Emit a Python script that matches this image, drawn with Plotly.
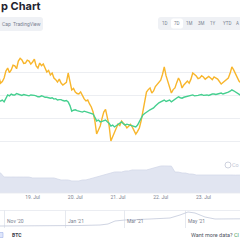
import plotly.graph_objects as go
import pandas as pd

# ---- data ----
times_h = pd.date_range("2021-07-18 04:00", periods=140, freq="1h")
times_2h = pd.date_range("2021-07-18 04:00", periods=70, freq="2h")

btc_price = [31660, 31820, 31530, 31600, 31750, 32050, 32180, 31980, 32095, 32300,
             32270, 32150, 32480, 32600, 32525, 32380, 32395, 32520, 32480, 32350,
             32440, 32560, 32270, 32180, 32395, 32280, 32355, 32200, 32010, 32080,
             31880, 31960, 31750, 31680, 31575, 31700, 31530, 31450, 31490, 31560,
             31965, 31600, 31235, 31300, 31145, 31080, 31060, 31150, 30975, 30850,
             30760, 30800, 30630, 30500, 30285, 29900, 29335, 29500, 29680, 30000,
             30285, 30400, 30110, 29700, 29035, 29200, 29380, 29550, 29765, 29700,
             29895, 29800, 29725, 29600, 29680, 29750, 29640, 29500, 29335, 29450,
             29595, 29900, 30285, 30800, 31145, 31250, 31320, 31100, 31190, 31380,
             31490, 31600, 31660, 31900, 32225, 31850, 31575, 31300, 31105, 31250,
             31320, 31550, 31750, 31600, 31320, 31450, 31530, 31620, 31530, 31700,
             31965, 31900, 31835, 31720, 31750, 31850, 31795, 31700, 31750, 31820,
             31750, 31680, 31795, 31760, 31705, 31600, 31490, 31560, 31620, 31700,
             31750, 31950, 32225, 32100, 31920, 31750, 31620, 31550, 31490, 31420]

coin_price = [0.540, 0.537, 0.538, 0.540, 0.536, 0.545, 0.551, 0.549, 0.553, 0.551,
              0.551, 0.554, 0.553, 0.551, 0.550, 0.552, 0.551, 0.549, 0.549, 0.551,
              0.551, 0.550, 0.549, 0.547, 0.547, 0.549, 0.548, 0.546, 0.546, 0.545,
              0.544, 0.545, 0.542, 0.543, 0.540, 0.541, 0.541, 0.539, 0.538, 0.539,
              0.536, 0.528, 0.516, 0.518, 0.519, 0.517, 0.516, 0.515, 0.514, 0.516,
              0.515, 0.513, 0.513, 0.512, 0.510, 0.503, 0.495, 0.497, 0.493, 0.494,
              0.495, 0.497, 0.493, 0.490, 0.484, 0.486, 0.482, 0.485, 0.488, 0.490,
              0.493, 0.489, 0.486, 0.488, 0.487, 0.485, 0.485, 0.484, 0.482, 0.486,
              0.493, 0.500, 0.508, 0.511, 0.514, 0.517, 0.519, 0.521, 0.523, 0.527,
              0.531, 0.534, 0.536, 0.539, 0.540, 0.537, 0.538, 0.540, 0.536, 0.539,
              0.542, 0.545, 0.547, 0.545, 0.544, 0.546, 0.547, 0.548, 0.549, 0.550,
              0.551, 0.549, 0.549, 0.550, 0.551, 0.552, 0.550, 0.551, 0.551, 0.550,
              0.552, 0.553, 0.553, 0.552, 0.553, 0.554, 0.555, 0.553, 0.554, 0.556,
              0.557, 0.559, 0.562, 0.560, 0.557, 0.554, 0.551, 0.550, 0.549, 0.548]

volume_b = [28.6, 27.3, 21.8, 21.9, 21.8, 21.7, 21.8, 21.9, 21.8, 21.7,
            20.5, 20.6, 20.5, 20.4, 20.5, 20.6, 20.5, 19.1, 17.7, 17.8,
            17.7, 16.4, 16.5, 16.4, 17.7, 17.8, 19.1, 20.5, 21.8, 23.2,
            24.5, 25.9, 27.3, 28.6, 28.7, 28.6, 30.0, 30.1, 31.4, 31.5,
            31.4, 31.3, 31.4, 32.7, 34.1, 35.5, 36.8, 36.9, 36.8, 36.7,
            28.6, 28.5, 27.3, 27.2, 25.9, 25.8, 24.5, 24.6, 24.5, 24.4,
            24.5, 24.6, 24.5, 24.4, 24.5, 24.6, 24.5, 24.4, 24.5, 24.5]

nav_dates = ["2020-10-28", "2020-12-07", "2021-01-16", "2021-02-05", "2021-02-13",
             "2021-02-20", "2021-03-02", "2021-03-27", "2021-04-16", "2021-04-26",
             "2021-05-04", "2021-05-11", "2021-05-21", "2021-05-31", "2021-06-25",
             "2021-07-23"]
nav_values = [10, 10, 12.5, 15, 20, 35, 40, 45, 50, 65, 80, 75, 55, 45, 45, 47]

day_ticks = ["2021-07-19", "2021-07-20", "2021-07-21", "2021-07-22", "2021-07-23"]
day_labels = ["19. Jul", "20. Jul", "21. Jul", "22. Jul", "23. Jul"]
nav_ticks = ["2020-11-01", "2021-01-01", "2021-03-01", "2021-05-01"]
nav_labels = ["Nov '20", "Jan '21", "Mar '21", "May '21"]
range_buttons = ["1D", "7D", "1M", "3M", "1Y", "YTD"]

# ---- helpers ----
def py(p):
    return 1 - p / 240.0

def px(p):
    return p / 240.0

FONT = "Roboto"
GREY = "#7a8190"

fig = go.Figure()
fig.add_trace(go.Scatter(x=times_2h, y=volume_b, xaxis="x", yaxis="y3", mode="lines",
                         line=dict(color="#d3d8e8", width=0.8), fill="tozeroy",
                         fillcolor="#e1e5f1", hoverinfo="skip"))
fig.add_trace(go.Scatter(x=times_h, y=btc_price, xaxis="x", yaxis="y", mode="lines",
                         line=dict(color="#f8b62c", width=1.4), hoverinfo="skip"))
fig.add_trace(go.Scatter(x=times_h, y=coin_price, xaxis="x", yaxis="y2", mode="lines",
                         line=dict(color="#45cf8f", width=1.4), hoverinfo="skip"))
fig.add_trace(go.Scatter(x=nav_dates, y=nav_values, xaxis="x2", yaxis="y4", mode="lines",
                         line=dict(color="#c3c9da", width=0.8), hoverinfo="skip"))

fig.update_layout(
    width=240, height=240, margin=dict(l=0, r=0, t=0, b=0),
    paper_bgcolor="white", plot_bgcolor="white", showlegend=False,
    font=dict(family=FONT, size=5, color=GREY),
    xaxis=dict(domain=[0, 1], anchor="y3", range=["2021-07-18 05:41", "2021-07-23 20:34"],
               showgrid=False, zeroline=False, tickvals=day_ticks, ticktext=day_labels,
               tickfont=dict(size=5, color=GREY), ticks="", showline=False),
    yaxis=dict(domain=[py(165), py(49)], range=[28000, 33000], dtick=1000,
               showgrid=True, gridcolor="#eceef2", gridwidth=0.8, zeroline=False,
               showticklabels=False),
    yaxis2=dict(overlaying="y", range=[0.40, 0.65], showgrid=False, zeroline=False,
                showticklabels=False),
    yaxis3=dict(domain=[py(193), py(160)], range=[0, 45], showgrid=False, zeroline=False,
                showticklabels=False),
    xaxis2=dict(domain=[0, 1], anchor="y4", range=["2020-10-28", "2021-06-25"],
                tickvals=nav_ticks, showticklabels=False, showgrid=True,
                gridcolor="#e6e9ef", gridwidth=0.8, zeroline=False),
    yaxis4=dict(domain=[py(228), py(210)], range=[0, 90], showgrid=False, zeroline=False,
                showticklabels=False),
)

shapes = []
def rounded_rect(x0, y0, x1, y1, r, fill):
    X0, X1 = px(x0), px(x1)
    Y0, Y1 = py(y1), py(y0)
    rx, ry = r / 240.0, r / 240.0
    path = (f"M {X0+rx},{Y0} L {X1-rx},{Y0} Q {X1},{Y0} {X1},{Y0+ry} "
            f"L {X1},{Y1-ry} Q {X1},{Y1} {X1-rx},{Y1} L {X0+rx},{Y1} "
            f"Q {X0},{Y1} {X0},{Y1-ry} L {X0},{Y0+ry} Q {X0},{Y0} {X0+rx},{Y0} Z")
    return dict(type="path", xref="paper", yref="paper", path=path,
                fillcolor=fill, line=dict(width=0), layer="below")

shapes.append(rounded_rect(-10, 17, 43, 31, 3, "#eff1f5"))
shapes.append(rounded_rect(158, 17, 250, 30, 3, "#eff1f5"))
shapes.append(rounded_rect(171, 18.5, 183, 28.5, 2.5, "#ffffff"))
shapes.append(dict(type="line", xref="paper", yref="paper", x0=0, x1=1, y0=py(193), y1=py(193),
                   line=dict(color="#e6e9ef", width=0.8)))
shapes.append(dict(type="line", xref="paper", yref="paper", x0=0, x1=1, y0=py(210.5), y1=py(210.5),
                   line=dict(color="#e6e9ef", width=0.8)))
shapes.append(dict(type="rect", xref="paper", yref="paper", x0=px(-2), x1=px(3), y0=py(237.5), y1=py(232.5),
                   fillcolor="#dfe6fb", line=dict(color="#9fb2ea", width=0.6)))
shapes.append(dict(type="circle", xref="paper", yref="paper", x0=px(225), x1=px(231), y0=py(168), y1=py(162),
                   line=dict(color="#c2c7d6", width=0.8)))
fig.update_layout(shapes=shapes)

ann = []
ann.append(dict(text="<b>p Chart</b>", x=px(43), y=py(6), xref="paper", yref="paper",
                xanchor="right", yanchor="middle", showarrow=False,
                font=dict(family="Inter", size=11, color="#1f2430")))
ann.append(dict(text="Cap", x=0, y=py(24), xref="paper", yref="paper",
                xanchor="left", yanchor="middle", showarrow=False, font=dict(size=5, color=GREY)))
ann.append(dict(text="TradingView", x=px(27), y=py(24), xref="paper", yref="paper",
                xanchor="center", yanchor="middle", showarrow=False, font=dict(size=5, color=GREY)))
btn_x = [165, 177, 189, 201, 213, 227]
for lab, bx in zip(range_buttons, btn_x):
    ann.append(dict(text=lab, x=px(bx), y=py(23.5), xref="paper", yref="paper",
                    xanchor="center", yanchor="middle", showarrow=False,
                    font=dict(size=4.5, color=GREY)))
ann.append(dict(text="A", x=px(241), y=py(23.5), xref="paper", yref="paper",
                xanchor="right", yanchor="middle", showarrow=False,
                font=dict(size=4.5, color=GREY)))
for d, lab in zip(nav_ticks, nav_labels):
    ann.append(dict(text=lab, x=d, y=py(221), xref="x2", yref="paper", xanchor="left",
                    xshift=1, yanchor="middle", showarrow=False, font=dict(size=5, color=GREY)))
ann.append(dict(text="<b>BTC</b>", x=px(10), y=py(235), xref="paper", yref="paper",
                xanchor="left", yanchor="middle", showarrow=False, font=dict(size=5, color="#3a3f4b")))
ann.append(dict(text="Want more data? <span style='color:#4a9e5c'>Cl</span>", x=px(241), y=py(235),
                xref="paper", yref="paper", xanchor="right", yanchor="middle", showarrow=False,
                font=dict(size=5.5, color="#50555f")))
ann.append(dict(text="Co", x=px(241), y=py(165), xref="paper", yref="paper",
                xanchor="right", yanchor="middle", showarrow=False, font=dict(size=5.5, color="#c2c7d6")))
fig.update_layout(annotations=ann)

fig.write_html("out.html", config={"displayModeBar": False})
